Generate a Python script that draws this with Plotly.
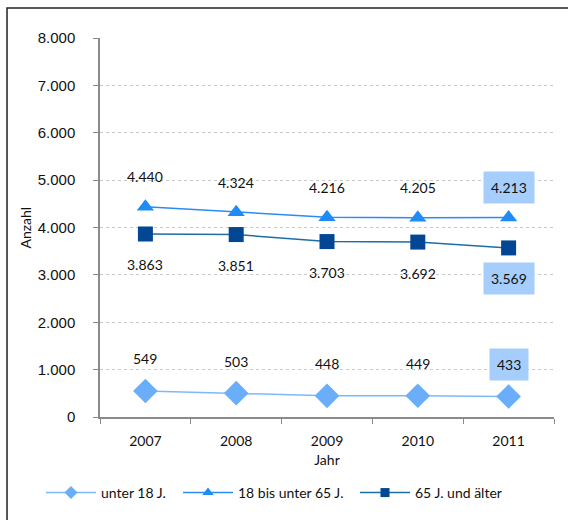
import plotly.graph_objects as go

years = ["2007", "2008", "2009", "2010", "2011"]
unter18 = [549, 503, 448, 449, 433]
mitte = [4440, 4324, 4216, 4205, 4213]
alt = [3863, 3851, 3703, 3692, 3569]
names = ["unter 18 J.", "18 bis unter 65 J.", "65 J. und älter"]

def fmt(v):
    return f"{v:,}".replace(",", ".")

styles = [
    dict(line=dict(color="#7DB9FA", width=1.5), symbol="diamond", size=19, lsize=10, mcolor="#6AAEF9"),
    dict(line=dict(color="#2A8BF5", width=1.5), symbol="triangle-up", size=15, lsize=10, mcolor="#1E8BF7"),
    dict(line=dict(color="#1E6CA8", width=1.5), symbol="square", size=15, lsize=9, mcolor="#034694"),
]

fig = go.Figure()
for name, data, st in zip(names, [unter18, mitte, alt], styles):
    fig.add_trace(go.Scatter(x=years, y=data, name=name, mode="lines+markers",
                             line=st["line"], showlegend=False,
                             marker=dict(symbol=st["symbol"], size=st["size"], color=st["mcolor"])))
legend_ids = ["legend", "legend2", "legend3"]
for name, st, lid in zip(names, styles, legend_ids):
    fig.add_trace(go.Scatter(x=[None], y=[None], name=name, mode="lines+markers",
                             line=st["line"], showlegend=True, legend=lid,
                             marker=dict(symbol=st["symbol"], size=st["lsize"], color=st["mcolor"])))

lab_font = dict(family="Lato, Open Sans, sans-serif", size=14, color="#111")
for series, shift in ((unter18, 32), (mitte, 30), (alt, -31)):
    for i, v in enumerate(series):
        last = i == len(years) - 1
        fig.add_annotation(x=i, y=v, xref="x", yref="y", text=fmt(v), showarrow=False,
                           yshift=shift, font=lab_font,
                           bgcolor="#A6CEFC" if last else "rgba(0,0,0,0)",
                           borderpad=7 if last else 0)

# y axis title
fig.add_annotation(text="Anzahl", xref="paper", yref="paper", x=(25 - 100) / 454, y=0.5,
                   xanchor="center", yanchor="middle",
                   textangle=-90, showarrow=False, font=dict(size=14, color="#111"))

# outer chart border (left and top visible)
fig.add_shape(type="rect", xref="paper", yref="paper",
              x0=-0.2048, x1=1.06, y0=-0.35, y1=1.0792,
              line=dict(color="#222", width=1.5), layer="below")

leg_common = dict(orientation="h", xanchor="left", xref="container",
                  y=0.052, yanchor="middle", yref="container",
                  font=dict(size=14), itemwidth=50, bgcolor="rgba(0,0,0,0)")
fig.update_layout(
    width=568, height=520,
    margin=dict(l=100, r=14, t=38, b=103, autoexpand=False),
    paper_bgcolor="white", plot_bgcolor="white",
    font=dict(family="Lato, Open Sans, sans-serif", size=13, color="#111"),
    showlegend=True,
    legend=dict(x=41 / 568, **leg_common),
    legend2=dict(x=178 / 568, **leg_common),
    legend3=dict(x=355 / 568, **leg_common),
    xaxis=dict(type="category", showline=True, linecolor="#8A8A8A", linewidth=1.5,
               ticks="outside", tickson="boundaries", ticklen=5, tickcolor="#8A8A8A",
               showgrid=False, range=[-0.5, 4.5], ticklabelstandoff=10,
               title=dict(text="Jahr", standoff=8, font=dict(size=14)),
               tickfont=dict(size=14)),
    yaxis=dict(range=[0, 8000], tickvals=[0, 1000, 2000, 3000, 4000, 5000, 6000, 7000, 8000],
               ticktext=[fmt(v) for v in [0, 1000, 2000, 3000, 4000, 5000, 6000, 7000, 8000]],
               showline=True, linecolor="#8A8A8A", linewidth=1.5,
               ticks="outside", ticklen=5, tickcolor="#8A8A8A",
               showgrid=True, gridcolor="#C8C8C8", griddash="dot", gridwidth=1,
               zeroline=False, ticklabelstandoff=15,
               tickfont=dict(family="Liberation Sans, Arial, sans-serif", size=15)),
)

fig.write_html("out.html")
